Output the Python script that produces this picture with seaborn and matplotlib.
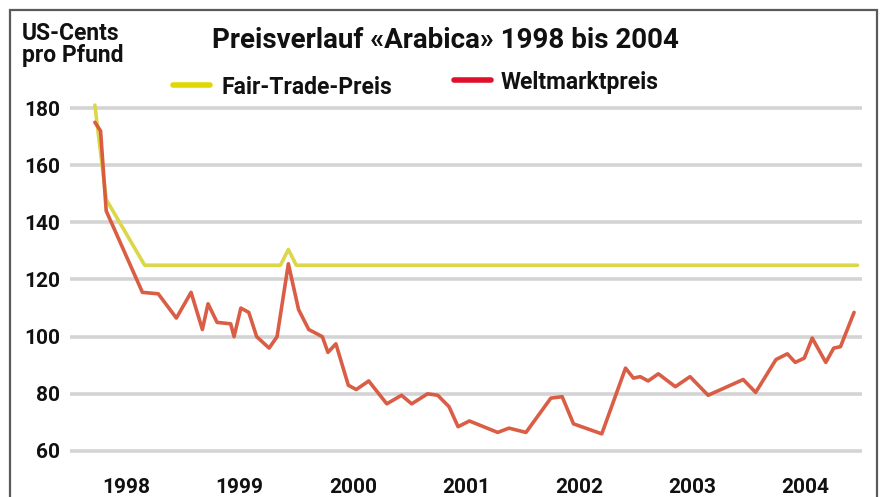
import numpy as np
import pandas as pd
import matplotlib
matplotlib.use("Agg")
import matplotlib.pyplot as plt
from matplotlib.patches import Rectangle
from matplotlib.lines import Line2D
import seaborn as sns

# ---- data ----
welt_dates = [1998.22, 1998.27, 1998.32, 1998.64, 1998.78, 1998.94, 1999.07, 1999.17,
              1999.22, 1999.30, 1999.42, 1999.45, 1999.51, 1999.58, 1999.65, 1999.76,
              1999.83, 1999.93, 2000.02, 2000.11, 2000.23, 2000.28, 2000.35, 2000.46,
              2000.53, 2000.64, 2000.80, 2000.93, 2001.02, 2001.16, 2001.25, 2001.35,
              2001.43, 2001.53, 2001.78, 2001.88, 2002.03, 2002.25, 2002.35, 2002.45,
              2002.70, 2002.91, 2002.98, 2003.04, 2003.11, 2003.20, 2003.35, 2003.48,
              2003.64, 2003.95, 2004.06, 2004.24, 2004.34, 2004.41, 2004.49, 2004.56,
              2004.68, 2004.75, 2004.81, 2004.93]
welt_values = [175, 172, 144, 115.5, 115, 106.5, 115.5, 102.5,
               111.5, 105, 104.5, 100, 110, 108.5, 100, 96,
               100, 125.5, 109.5, 102.5, 100, 94.5, 97.5, 83,
               81.5, 84.5, 76.5, 79.5, 76.5, 80, 79.5, 75.5,
               68.5, 70.5, 66.5, 68, 66.5, 78.5, 79, 69.5,
               66, 89, 85.5, 86, 84.5, 87, 82.5, 86,
               79.5, 85, 80.5, 92, 94, 91, 92.5, 99.5,
               91, 96, 96.5, 108.5]

fair_dates = [1998.22, 1998.32, 1998.66, 1999.86, 1999.93, 2000.00, 2004.96]
fair_values = [181, 148, 125, 125, 130.5, 125, 125]

year_labels = ["1998", "1999", "2000", "2001", "2002", "2003", "2004"]
y_ticks = [60, 80, 100, 120, 140, 160, 180]

title = "Preisverlauf «Arabica» 1998 bis 2004"
unit_label = "US-Cents\npro Pfund"
fair_name = "Fair-Trade-Preis"
welt_name = "Weltmarktpreis"

# ---- style ----
sns.set_theme(style="white")
plt.rcParams["font.family"] = ["Liberation Sans Narrow", "Roboto", "DejaVu Sans"]
plt.rcParams["font.weight"] = "bold"

W, H = 884, 497
fig = plt.figure(figsize=(W / 100, H / 100), dpi=100)
fig.patch.set_facecolor("white")

def fx(px):
    return px / W

def fy(py):
    return 1 - py / H

# axes: x from 70 to 862 px, y from 100 to 460 px
ax = fig.add_axes([fx(70), fy(460), fx(862) - fx(70), fy(100) - fy(460)])
ax.set_facecolor("white")

df_w = pd.DataFrame({"Jahr": welt_dates, "Preis": welt_values})
df_f = pd.DataFrame({"Jahr": fair_dates, "Preis": fair_values})

yellow_line = "#dcd64a"
red_line = "#d8553c"
sns.lineplot(data=df_f, x="Jahr", y="Preis", ax=ax, color=yellow_line, lw=2.6,
             estimator=None, sort=False, zorder=3)
sns.lineplot(data=df_w, x="Jahr", y="Preis", ax=ax, color=red_line, lw=2.6,
             estimator=None, sort=False, zorder=4, alpha=0.95)

ax.set_xlim(1998.0, 2004.96)
ax.set_ylim(56.85, 182.8)

ax.set_yticks(y_ticks)
ax.set_yticklabels([str(v) for v in y_ticks])
ax.yaxis.grid(True, color="#d4d4d4", lw=2.6)
ax.xaxis.grid(False)
ax.set_axisbelow(True)

ax.set_xticks([1998.5 + i for i in range(len(year_labels))])
ax.set_xticklabels(year_labels)
ax.set_xticks([1998 + i for i in range(8)], minor=True)

for s in ax.spines.values():
    s.set_visible(False)
ax.spines["bottom"].set_position(("outward", 13))

ax.tick_params(axis="y", length=0, pad=7, labelsize=15, labelcolor="#111111")
ax.tick_params(axis="x", which="major", length=0, pad=0, labelsize=15,
               labelcolor="#111111")
ax.tick_params(axis="x", which="minor", length=14, width=1.2, color="#d6d6d6",
               direction="out")
ax.set_xlabel("")
ax.set_ylabel("")
for lab in ax.get_xticklabels() + ax.get_yticklabels():
    lab.set_fontweight("bold")

# frame border
fig.add_artist(Rectangle((fx(10), fy(H + 20)), fx(877) - fx(10), fy(10) - fy(H + 20),
                         transform=fig.transFigure, fill=False,
                         edgecolor="#5a5a5a", lw=1.6, clip_on=False))

# title and unit
fig.text(fx(445), fy(40), title, ha="center", va="center", fontsize=20,
         fontweight="bold", color="#111111")
fig.text(fx(22), fy(22), unit_label, ha="left", va="top", fontsize=16.5,
         fontweight="bold", color="#111111", linespacing=0.95)

# legends (two separate entries at different heights)
h_fair = Line2D([], [], color="#e0d800", lw=4)
h_welt = Line2D([], [], color="#e0102a", lw=4)
leg1 = fig.legend([h_fair], [fair_name], loc="center left",
                  bbox_to_anchor=(fx(173), fy(87)), frameon=False,
                  borderpad=0, borderaxespad=0, handlelength=1.6,
                  handletextpad=0.5, prop={"size": 16.5, "weight": "bold"})
leg2 = fig.legend([h_welt], [welt_name], loc="center left",
                  bbox_to_anchor=(fx(454), fy(82)), frameon=False,
                  borderpad=0, borderaxespad=0, handlelength=1.6,
                  handletextpad=0.45, prop={"size": 16.5, "weight": "bold"})
for leg in (leg1, leg2):
    for t in leg.get_texts():
        t.set_color("#111111")

fig.savefig("out.png", dpi=100, facecolor="white")
